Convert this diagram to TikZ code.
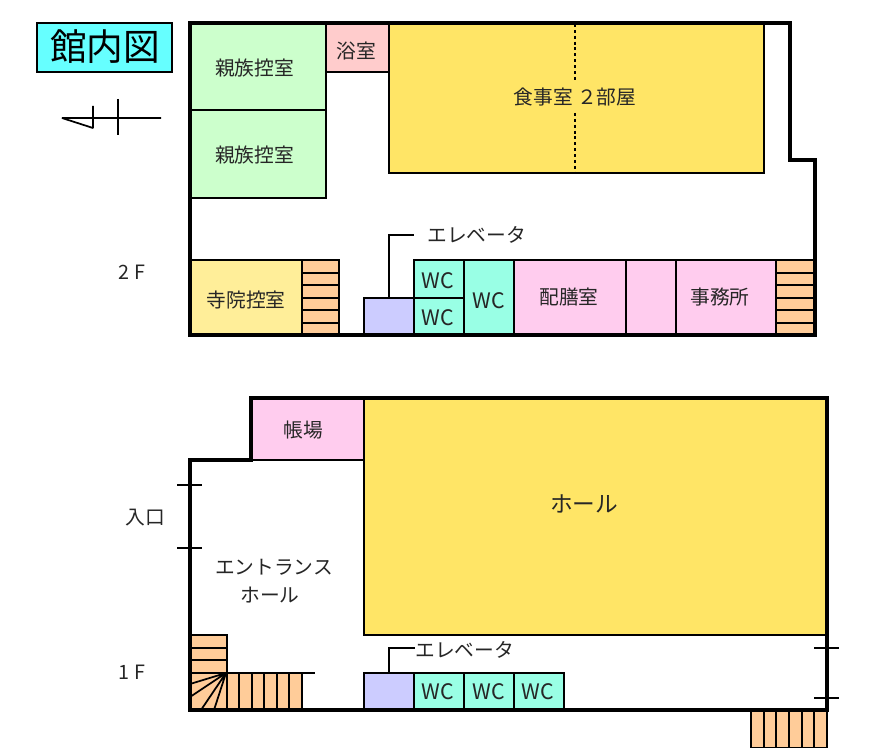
\documentclass[tikz,border=0pt]{standalone}
\usepackage{fontspec}
\setmainfont{Noto Sans CJK JP}
\definecolor{titlec}{HTML}{66FFFF}
\definecolor{greenc}{HTML}{CCFFCC}
\definecolor{redc}{HTML}{FFCCCC}
\definecolor{yelc}{HTML}{FFE566}
\definecolor{paleyc}{HTML}{FFEE99}
\definecolor{stairc}{HTML}{FFCC99}
\definecolor{evc}{HTML}{CCCCFF}
\definecolor{wcc}{HTML}{99FFE5}
\definecolor{pinkc}{HTML}{FFCCEE}
\tikzset{
 room/.style={draw=black,line width=1.6pt},
 wall/.style={draw=black,line width=2.3pt,line join=miter},
 thin line/.style={draw=black,line width=1.3pt,line join=bevel},
 lab/.style={font=\fontsize{14.8pt}{16pt}\selectfont,text=black!85,inner sep=0pt},
 wclab/.style={font=\fontsize{16pt}{16pt}\selectfont,text=black!85,inner sep=0pt},
}
\begin{document}
\begin{tikzpicture}[x=0.75pt,y=-0.75pt]
\useasboundingbox (0,0) rectangle (896,748);
\fill[white] (0,0) rectangle (896,748);
% title
\draw[room,fill=titlec] (37,23) rectangle (172,72);
\node[font=\fontsize{27.5pt}{30pt}\selectfont,inner sep=0pt] (title) at (105,47) {館内図};
% north mark
\draw[thin line] (161,118) -- (62,118) -- (93,128) -- (93,106);
\draw[thin line] (118,99) -- (118,135);
% 2F rooms
\draw[room,fill=greenc] (190,23) rectangle (326,110);
\draw[room,fill=greenc] (190,110) rectangle (326,198);
\draw[room,fill=redc] (326,23) rectangle (389,72);
\draw[room,fill=yelc] (389,23) rectangle (764,173);
\draw[black,line width=1.5pt,dash pattern=on 2.2pt off 2.2pt] (575,24) -- (575,80) (575,113) -- (575,172);
\draw[room,fill=paleyc] (190,260) rectangle (302,335);
\draw[room,fill=stairc] (302,260) rectangle (339,335);
\foreach \y in {273,285,298,310,323} \draw[room] (302,\y) -- (339,\y);
\draw[room,fill=evc] (364,298) rectangle (414,335);
\coordinate (e2) at (414,235);
\draw[room] (389,298) -- (389,235) -- (e2);
\draw[room,fill=wcc] (414,260) rectangle (464,298);
\draw[room,fill=wcc] (414,298) rectangle (464,335);
\draw[room,fill=wcc] (464,260) rectangle (514,335);
\draw[room,fill=pinkc] (514,260) rectangle (626,335);
\draw[room,fill=pinkc] (626,260) rectangle (676,335);
\draw[room,fill=pinkc] (676,260) rectangle (776,335);
\draw[room,fill=stairc] (776,260) rectangle (815,335);
\foreach \y in {273,285,298,310,323} \draw[room] (776,\y) -- (815,\y);
% 2F outer wall
\draw[wall] (190,23) -- (790,23) -- (790,160) -- (815,160) -- (815,335) -- (190,335) -- cycle;
% 1F rooms
\draw[room,fill=pinkc] (251,398) rectangle (364,460);
\draw[room,fill=yelc] (364,398) rectangle (827,635);
% stairs
\draw[room,fill=stairc] (190,635) rectangle (227,673);
\draw[room] (190,648) -- (227,648) (190,660) -- (227,660);
\fill[stairc] (190,673) rectangle (302,710);
\draw[room] (190,673) -- (315,673);
\foreach \x in {227,239,252,264,277,289,302} \draw[room] (\x,673) -- (\x,710);
\draw[thin line] (226,673) -- (190,684) (226,673) -- (190,697) (226,673) -- (201,710) (226,673) -- (214,710);
\draw[room,fill=evc] (364,673) rectangle (414,710);
\coordinate (e1) at (415,648);
\draw[room] (389,673) -- (389,648) -- (e1);
\draw[room,fill=wcc] (414,673) rectangle (464,710);
\draw[room,fill=wcc] (464,673) rectangle (514,710);
\draw[room,fill=wcc] (514,673) rectangle (564,710);
\draw[room,fill=stairc] (751,710) rectangle (827,748);
\foreach \x in {764,776,789,802,814} \draw[room] (\x,710) -- (\x,748);
% 1F outer wall
\draw[wall] (190,460) -- (251,460) -- (251,398) -- (827,398) -- (827,710) -- (190,710) -- cycle;
% door ticks
\draw[room] (177,485) -- (202,485) (177,548) -- (202,548);
\draw[room] (814,648) -- (839,648) (814,698) -- (839,698);
% labels
\node[lab] (a1) at (254.5,68) {親族控室};
\node[lab] (a2) at (254.5,155.5) {親族控室};
\node[lab] (a3) at (356,51) {浴室};
\node[lab] (a4) at (575,97) {食事室 ２部屋};
\node[lab] (a5) at (246,300) {寺院控室};
\node[lab,anchor=west] (a6) at (427,235) {エレベータ};
\node[wclab] (w1) at (438,281) {WC};
\node[wclab] (w2) at (438,318) {WC};
\node[wclab] (w3) at (489,301) {WC};
\node[lab] (a7) at (569,297) {配膳室};
\node[lab] (a8) at (720,297) {事務所};
\node[lab] (f2) at (132,272) {2 F};
\node[lab] (a9) at (303,430) {帳場};
\node[lab,font=\fontsize{17pt}{18pt}\selectfont] (a10) at (584,504) {ホール};
\node[lab] (a11) at (145,518) {入口};
\node[lab] (a12) at (274,567) {エントランス};
\node[lab] (a13) at (270,595) {ホール};
\node[lab] (f1) at (132,672) {1 F};
\node[lab,anchor=west] (a14) at (415,650) {エレベータ};
\node[wclab] (w4) at (438,692) {WC};
\node[wclab] (w5) at (489,692) {WC};
\node[wclab] (w6) at (538,692) {WC};
\end{tikzpicture}
\end{document}
